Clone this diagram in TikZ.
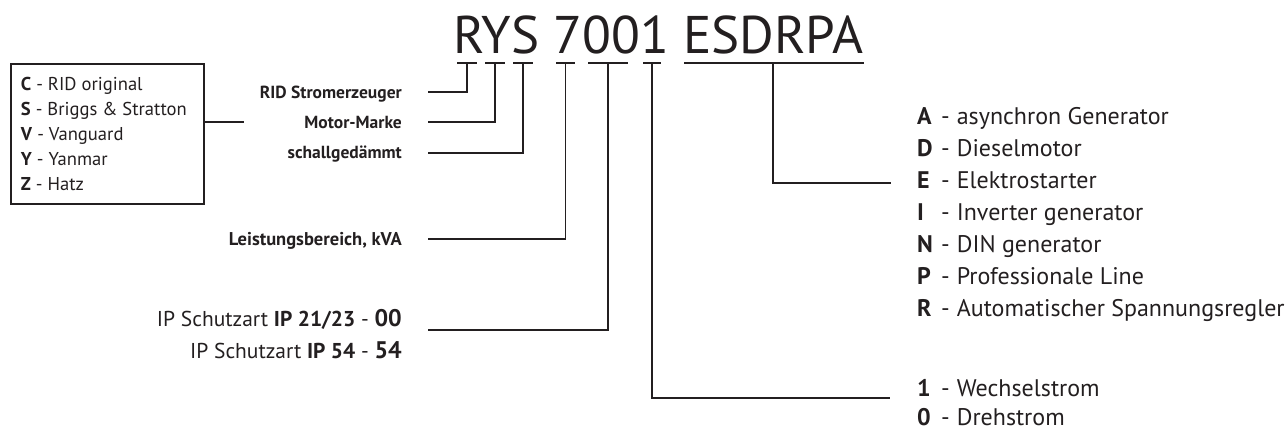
\documentclass[tikz,border=0pt]{standalone}
\usepackage{fontspec}
\setmainfont{PT Sans}
\usepackage{tikz}

\definecolor{ink}{RGB}{35,31,32}

\tikzset{
  codeline/.style={line width=1.9pt, draw=ink},
  sublabel/.style={font=\bfseries\fontsize{17.5}{20}\selectfont, anchor=base east, inner sep=0pt, text=ink},
  iplabel/.style={font=\fontsize{21.5}{24}\selectfont, anchor=base east, inner sep=0pt, text=ink},
  keyrow/.style={font=\fontsize{24}{28}\selectfont, anchor=base west, inner sep=0pt, text=ink},
}
\newcommand{\keyitem}[2]{\makebox[24pt][l]{\bfseries #1}-\hspace{7pt}#2}
\newcommand{\ipcode}[1]{\textbf{\fontsize{24}{24}\selectfont #1}}

\begin{document}
\begin{tikzpicture}[x=1pt, y=-1pt]
  \useasboundingbox (0,0) rectangle (1286,431);

  % type designation
  \node[font=\fontsize{53}{60}\selectfont, text=ink, anchor=base west, inner sep=0pt] (code) at (453,53) {RYS 7001 ESDRPA};

  % marks under the characters
  \coordinate (tR) at (467,63);
  \coordinate (tY) at (495,63);
  \coordinate (tS) at (523,63);
  \coordinate (tP) at (565.5,63);
  \coordinate (tIP) at (608,63);
  \coordinate (tPh) at (652,63);
  \coordinate (tOpt) at (773,63);
  \draw[codeline] (457,63) -- (477,63);
  \draw[codeline] (485,63) -- (505,63);
  \draw[codeline] (513,63) -- (533,63);
  \draw[codeline] (556,63) -- (575,63);
  \draw[codeline] (588,63) -- (628,63);
  \draw[codeline] (643,63) -- (661,63);
  \draw[codeline] (684,63) -- (864,63);

  % engine brands
  \node[draw=ink, line width=1.9pt, minimum width=193pt, minimum height=140pt, anchor=north west,
        inner xsep=10pt, inner ysep=0pt, align=left, text=ink, font=\fontsize{18.6}{25}\selectfont] (brands) at (10,63)
    {\makebox[173pt][l]{\textbf{C} - RID original}\\
     \textbf{S} - Briggs \& Stratton\\
     \textbf{V} - Vanguard\\
     \textbf{Y} - Yanmar\\
     \textbf{Z} - Hatz};

  % labels on the left
  \node[sublabel] (lblRID) at (402,98) {RID Stromerzeuger};
  \node[sublabel] (lblMotor) at (402,128) {Motor-Marke};
  \node[sublabel] (lblSilent) at (402,158) {schallgedämmt};
  \node[sublabel, font=\bfseries\fontsize{18.5}{20}\selectfont] (lblPower) at (402,245) {Leistungsbereich, kVA};
  \node[iplabel] (lblIPa) at (402,326) {IP Schutzart \textbf{IP 21/23} - \ipcode{00}};
  \node[iplabel] (lblIPb) at (402,358) {IP Schutzart \textbf{IP 54} - \ipcode{54}};

  % options on the right
  \node[keyrow] (rowA) at (917,124) {\keyitem{A}{asynchron Generator}};
  \node[keyrow] (rowD) at (917,156) {\keyitem{D}{Dieselmotor}};
  \node[keyrow] (rowE) at (917,188) {\keyitem{E}{Elektrostarter}};
  \node[keyrow] (rowI) at (917,220) {\keyitem{I}{Inverter generator}};
  \node[keyrow] (rowN) at (917,252) {\keyitem{N}{DIN generator}};
  \node[keyrow] (rowP) at (917,284) {\keyitem{P}{Professionale Line}};
  \node[keyrow] (rowR) at (917,316) {\keyitem{R}{Automatischer Spannungsregler}};
  \node[keyrow] (row1) at (917,396) {\keyitem{1}{Wechselstrom}};
  \node[keyrow] (row0) at (917,425) {\keyitem{0}{Drehstrom}};

  % connectors
  \coordinate (eRID) at (428,92);
  \coordinate (eMotor) at (428,122);
  \coordinate (eSilent) at (428,153);
  \coordinate (ePower) at (428,239);
  \coordinate (eIP) at (428,330);
  \coordinate (ePh) at (890,398);
  \coordinate (eOpt) at (891,183);
  \draw[codeline] (tR) |- (eRID);
  \draw[codeline] (tY) |- (eMotor);
  \draw[codeline] (tS) |- (eSilent);
  \draw[codeline] (tP) |- (ePower);
  \draw[codeline] (tIP) |- (eIP);
  \draw[codeline] (tPh) |- (ePh);
  \draw[codeline] (tOpt) |- (eOpt);
  \draw[codeline] (brands.east |- eMotor) -- ++(39,0);
\end{tikzpicture}
\end{document}
